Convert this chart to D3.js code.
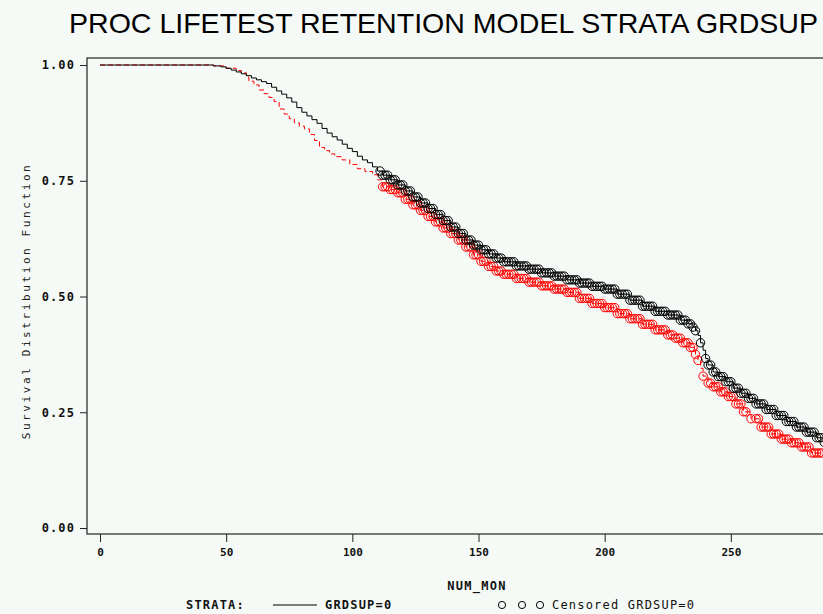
<!DOCTYPE html>
<html>
<head>
<meta charset="utf-8">
<script src="https://cdn.jsdelivr.net/npm/d3@7"></script>
<style>
  body { margin: 0; background: #f5faf6; }
  svg { display: block; }
</style>
</head>
<body>
<svg></svg>
<script>
const width = 823;
const height = 614;

// survival curve GRDSUP=0 (black, solid): month / survival
const months0 = [0, 45, 48, 50, 52, 54, 56, 58, 60, 62, 64, 66, 68, 70, 72, 74, 76, 78, 80, 82, 84, 86, 88, 90, 92, 94, 96, 98, 100, 102, 104, 106, 108, 110, 112, 115, 118, 121, 124, 127, 130, 133, 136, 139, 142, 145, 148, 151, 154, 157, 160, 165, 170, 175, 180, 185, 190, 195, 200, 205, 210, 215, 220, 225, 230, 233, 235, 236, 237, 238, 239, 240, 241, 243, 245, 248, 251, 254, 257, 260, 264, 268, 272, 276, 280, 284, 287];
const surv0 = [1.0, 0.998, 0.996, 0.993, 0.989, 0.985, 0.981, 0.977, 0.972, 0.968, 0.964, 0.960, 0.952, 0.944, 0.937, 0.929, 0.920, 0.908, 0.898, 0.890, 0.882, 0.874, 0.863, 0.853, 0.845, 0.838, 0.829, 0.820, 0.813, 0.803, 0.795, 0.789, 0.780, 0.771, 0.762, 0.752, 0.741, 0.728, 0.715, 0.702, 0.690, 0.677, 0.664, 0.650, 0.636, 0.622, 0.611, 0.601, 0.592, 0.583, 0.575, 0.566, 0.559, 0.551, 0.544, 0.536, 0.529, 0.522, 0.516, 0.505, 0.492, 0.479, 0.468, 0.460, 0.449, 0.441, 0.434, 0.426, 0.416, 0.400, 0.384, 0.366, 0.352, 0.337, 0.327, 0.316, 0.302, 0.291, 0.280, 0.268, 0.256, 0.243, 0.230, 0.218, 0.207, 0.195, 0.185];

// survival curve second stratum (red, dashed)
const months1 = [0, 45, 50, 54, 56, 58, 59, 61, 63, 65, 67, 69, 71, 73, 75, 77, 79, 81, 83, 85, 87, 89, 91, 93, 96, 99, 102, 105, 108, 110, 112, 115, 118, 121, 124, 127, 130, 133, 136, 139, 142, 145, 148, 151, 154, 157, 160, 165, 170, 175, 180, 185, 190, 195, 200, 205, 210, 215, 220, 225, 228, 231, 234, 236, 237, 238, 239, 241, 243, 246, 249, 252, 255, 258, 262, 266, 270, 274, 278, 282, 287];
const surv1 = [1.0, 0.998, 0.993, 0.988, 0.983, 0.974, 0.965, 0.957, 0.946, 0.938, 0.930, 0.921, 0.905, 0.894, 0.884, 0.875, 0.868, 0.862, 0.850, 0.837, 0.822, 0.815, 0.808, 0.802, 0.795, 0.785, 0.776, 0.770, 0.763, 0.752, 0.737, 0.731, 0.724, 0.710, 0.698, 0.686, 0.673, 0.661, 0.648, 0.636, 0.622, 0.607, 0.590, 0.576, 0.565, 0.555, 0.548, 0.539, 0.531, 0.523, 0.516, 0.509, 0.496, 0.485, 0.476, 0.463, 0.452, 0.440, 0.428, 0.417, 0.410, 0.400, 0.390, 0.375, 0.362, 0.345, 0.328, 0.313, 0.305, 0.294, 0.284, 0.268, 0.251, 0.236, 0.218, 0.203, 0.192, 0.184, 0.175, 0.162, 0.148];

// censored observation months
const censor0 = [111, 112, 113, 114, 115, 116, 117, 118, 119, 120, 121, 122, 123, 124, 125, 126, 127, 128, 129, 130,
  131, 132, 133, 134, 135, 136, 137, 138, 139, 140, 141, 142, 143, 144, 145, 146, 147, 148, 149, 150,
  151, 152, 153, 154, 155, 156, 157, 158, 159, 160, 161, 162, 163, 164, 165, 166, 167, 168, 169, 170,
  171, 172, 173, 174, 175, 176, 177, 178, 179, 180, 181, 182, 183, 184, 185, 186, 187, 188, 189, 190,
  191, 192, 193, 194, 195, 196, 197, 198, 199, 200, 201, 202, 203, 204, 205, 206, 207, 208, 209, 210,
  211, 212, 213, 214, 215, 216, 217, 218, 219, 220, 221, 222, 223, 224, 225, 226, 227, 228, 229, 230,
  231, 232, 233, 234, 235, 236, 238, 240, 241, 242, 243, 244, 245, 246, 247, 248, 249, 250,
  251, 252, 253, 254, 255, 256, 257, 258, 259, 260, 261, 262, 263, 264, 265, 266, 267, 268, 269, 270,
  271, 272, 273, 274, 275, 276, 277, 278, 279, 280, 281, 282, 283, 284, 285, 286, 287];
const censor1 = [112, 113, 114, 115, 116, 117, 118, 119, 120, 121, 122, 123, 124, 125, 126, 127, 128, 129, 130,
  131, 132, 133, 134, 135, 136, 137, 138, 139, 140, 141, 142, 143, 144, 145, 146, 147, 148, 149, 150,
  151, 152, 153, 154, 155, 156, 157, 158, 159, 160, 161, 162, 163, 164, 165, 166, 167, 168, 169, 170,
  171, 172, 173, 174, 175, 176, 177, 178, 179, 180, 181, 182, 183, 184, 185, 186, 187, 188, 189, 190,
  191, 192, 193, 194, 195, 196, 197, 198, 199, 200, 201, 202, 203, 204, 205, 206, 207, 208, 209, 210,
  211, 212, 213, 214, 215, 216, 217, 218, 219, 220, 221, 222, 223, 224, 225, 226, 227, 228, 229, 230,
  231, 232, 233, 234, 235, 236, 237, 239, 241, 242, 243, 244, 245, 246, 247, 248, 249, 250,
  251, 252, 253, 254, 255, 256, 258, 260, 261, 262, 263, 264, 265, 266, 267, 268, 269, 270,
  271, 272, 273, 274, 275, 276, 277, 278, 279, 280, 281, 282, 283, 284, 285, 286];

const xTicks = [0, 50, 100, 150, 200, 250];
const yTicks = [0, 0.25, 0.5, 0.75, 1.0];

let svg = d3.select("svg")
     .attr("width", width)
     .attr("height", height)
     .style("font-family", "DejaVu Sans Mono, monospace");

svg.append("rect")
     .attr("width", width)
     .attr("height", height)
     .attr("fill", "#f5faf6");

// scales
let scX = d3.scaleLinear().domain([0, 300]).range([100, 857]);
let scY = d3.scaleLinear().domain([0, 1]).range([528, 65]);

// frame
svg.append("rect")
     .attr("x", 87)
     .attr("y", 58)
     .attr("width", 830)
     .attr("height", 476)
     .attr("fill", "none")
     .attr("stroke", "#222")
     .attr("stroke-width", 1.2);

// title
svg.append("text")
     .attr("x", 69)
     .attr("y", 33)
     .attr("textLength", 749)
     .attr("lengthAdjust", "spacingAndGlyphs")
     .style("font-family", "Liberation Sans, Arial, sans-serif")
     .style("font-size", "28px")
     .text("PROC LIFETEST RETENTION MODEL STRATA GRDSUP");

// axes
let axisX = d3.axisBottom(scX).tickValues(xTicks).tickSize(8).tickPadding(6).tickFormat(d3.format("d"));
let gx = svg.append("g")
     .attr("transform", "translate(0, 534)")
     .call(axisX);
gx.select(".domain").remove();
gx.selectAll("line").attr("stroke", "#222");
gx.selectAll("text")
     .style("font-family", "DejaVu Sans Mono, monospace")
     .style("font-weight", "bold")
     .style("font-size", "11px")
     .attr("fill", "#111");

let axisY = d3.axisLeft(scY).tickValues(yTicks).tickSize(7).tickPadding(5).tickFormat(d3.format(".2f"));
let gy = svg.append("g")
     .attr("transform", "translate(87, 0)")
     .call(axisY);
gy.select(".domain").remove();
gy.selectAll("line").attr("stroke", "#222");
gy.selectAll("text")
     .style("font-family", "DejaVu Sans Mono, monospace")
     .style("font-weight", "bold")
     .style("font-size", "12px")
     .style("letter-spacing", "1.1px")
     .attr("fill", "#111");

// axis labels
svg.append("text")
     .attr("transform", "translate(30, 301) rotate(-90)")
     .attr("text-anchor", "middle")
     .style("font-size", "11px")
     .style("letter-spacing", "2.6px")
     .attr("fill", "#222")
     .text("Survival Distribution Function");

svg.append("text")
     .attr("x", 477)
     .attr("y", 590)
     .attr("text-anchor", "middle")
     .style("font-size", "12px")
     .style("font-weight", "bold")
     .style("letter-spacing", "1.3px")
     .attr("fill", "#111")
     .text("NUM_MON");

// step curves
function stepData(ms, ss) {
    return ms.map((m, i) => ({m: m, s: ss[i]}));
}
let line = d3.line()
     .x(d => scX(d.m))
     .y(d => scY(d.s))
     .curve(d3.curveStepAfter);

let data0 = stepData(months0, surv0);
let data1 = stepData(months1, surv1);

svg.append("path")
     .datum(data1)
     .attr("d", line)
     .attr("fill", "none")
     .attr("stroke", "#ff0000")
     .attr("stroke-width", 1)
     .attr("stroke-dasharray", "5,3");

svg.append("path")
     .datum(data0)
     .attr("d", line)
     .attr("fill", "none")
     .attr("stroke", "#000")
     .attr("stroke-width", 1);

// censored marks sit on the curve
function survAt(ms, ss, t) {
    let i = d3.bisectRight(ms, t) - 1;
    return ss[Math.max(0, i)];
}

svg.append("g")
     .selectAll("circle")
     .data(censor1)
     .enter()
     .append("circle")
     .attr("cx", d => scX(d))
     .attr("cy", d => scY(survAt(months1, surv1, d)))
     .attr("r", 4.2)
     .attr("fill", "none")
     .attr("stroke", "#ff0000")
     .attr("stroke-width", 1);

svg.append("g")
     .selectAll("circle")
     .data(censor0)
     .enter()
     .append("circle")
     .attr("cx", d => scX(d))
     .attr("cy", d => scY(survAt(months0, surv0, d)))
     .attr("r", 4.2)
     .attr("fill", "none")
     .attr("stroke", "#000")
     .attr("stroke-width", 1);

// legend
let lg = svg.append("g")
     .style("font-size", "12px")
     .style("font-weight", "bold")
     .attr("fill", "#111");

lg.append("text").attr("x", 186).attr("y", 609).style("letter-spacing", "1.2px").text("STRATA:");
lg.append("line")
     .attr("x1", 273).attr("x2", 317)
     .attr("y1", 605).attr("y2", 605)
     .attr("stroke", "#000");
lg.append("text").attr("x", 325).attr("y", 609).style("letter-spacing", "1.2px").text("GRDSUP=0");

lg.selectAll("circle")
     .data([502, 522, 540])
     .enter()
     .append("circle")
     .attr("cx", d => d)
     .attr("cy", 605)
     .attr("r", 3.6)
     .attr("fill", "none")
     .attr("stroke", "#000");
lg.append("text").attr("x", 552).attr("y", 609).style("letter-spacing", "1.2px").style("font-weight", "normal").text("Censored GRDSUP=0");
</script>
</body>
</html>
